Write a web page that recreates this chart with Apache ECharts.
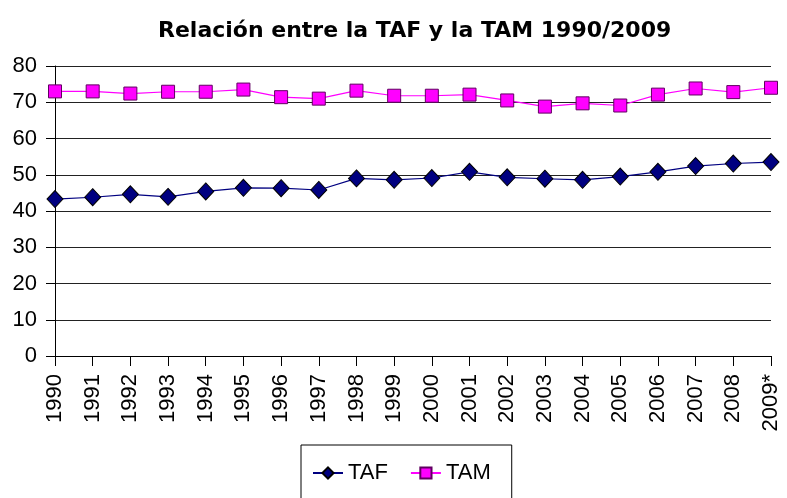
<!DOCTYPE html>
<html>
<head>
<meta charset="utf-8">
<script src="https://cdn.jsdelivr.net/npm/echarts@6/dist/echarts.min.js"></script>
<style>
  html, body { margin: 0; padding: 0; background: #fff; }
  #main { width: 787px; height: 498px; }
</style>
</head>
<body>
<div id="main"></div>
<script>
var years = ['1990','1991','1992','1993','1994','1995','1996','1997','1998','1999',
             '2000','2001','2002','2003','2004','2005','2006','2007','2008','2009*'];
var taf = [43.3, 43.8, 44.6, 43.9, 45.4, 46.4, 46.3, 45.8, 49.0, 48.6,
           49.1, 50.8, 49.3, 48.9, 48.6, 49.5, 50.8, 52.4, 53.1, 53.5];
var tam = [73.0, 73.0, 72.4, 72.9, 72.9, 73.5, 71.4, 71.0, 73.2, 71.8,
           71.8, 72.1, 70.5, 68.8, 69.7, 69.1, 72.1, 73.8, 72.8, 74.0];

var labelFont = "'Liberation Sans', sans-serif";

var myChart = echarts.init(document.getElementById('main'));

var option = {
	animation: false,
	backgroundColor: '#fff',
	title: {
		text: 'Relación entre la TAF y la TAM 1990/2009',
		left: 153,
		top: 15,
		textStyle: {
			fontFamily: 'DejaVu Sans',
			fontWeight: 'bold',
			fontSize: 22,
			color: '#000'
		}
	},
	grid: {
		left: 55,
		right: 16,
		top: 66,
		bottom: 142
	},
	legend: {
		left: 301,
		top: 445,
		padding: [17, 21, 30, 11],
		borderColor: '#000',
		borderWidth: 1,
		itemWidth: 30,
		itemHeight: 14,
		itemGap: 22,
		textStyle: {
			fontFamily: labelFont,
			fontSize: 22,
			color: '#000'
		},
		data: ['TAF', 'TAM']
	},
	xAxis: {
		type: 'category',
		data: years,
		boundaryGap: false,
		axisLine: { lineStyle: { color: '#000', width: 1 } },
		axisTick: { alignWithLabel: true, length: 10, lineStyle: { color: '#000' } },
		axisLabel: {
			rotate: 90,
			interval: 0,
			margin: 18,
			fontFamily: labelFont,
			fontSize: 22,
			color: '#000'
		}
	},
	yAxis: {
		type: 'value',
		min: 0,
		max: 80,
		interval: 10,
		axisLine: { show: true, lineStyle: { color: '#000', width: 1 } },
		axisTick: { show: true, length: 9, lineStyle: { color: '#000' } },
		axisLabel: {
			margin: 18,
			fontFamily: labelFont,
			fontSize: 22,
			color: '#000'
		},
		splitLine: { lineStyle: { color: '#222', width: 1 } }
	},
	series: [
		{
			name: 'TAF',
			type: 'line',
			data: taf,
			symbol: 'diamond',
			symbolSize: [16, 17],
			lineStyle: { color: '#000080', width: 1.2 },
			itemStyle: { color: '#000080', borderColor: '#000', borderWidth: 1 }
		},
		{
			name: 'TAM',
			type: 'line',
			data: tam,
			symbol: 'rect',
			symbolSize: [13, 13],
			lineStyle: { color: '#ff00ff', width: 1.2 },
			itemStyle: { color: '#ff00ff', borderColor: '#600060', borderWidth: 1 }
		}
	]
};

myChart.setOption(option);
</script>
</body>
</html>
